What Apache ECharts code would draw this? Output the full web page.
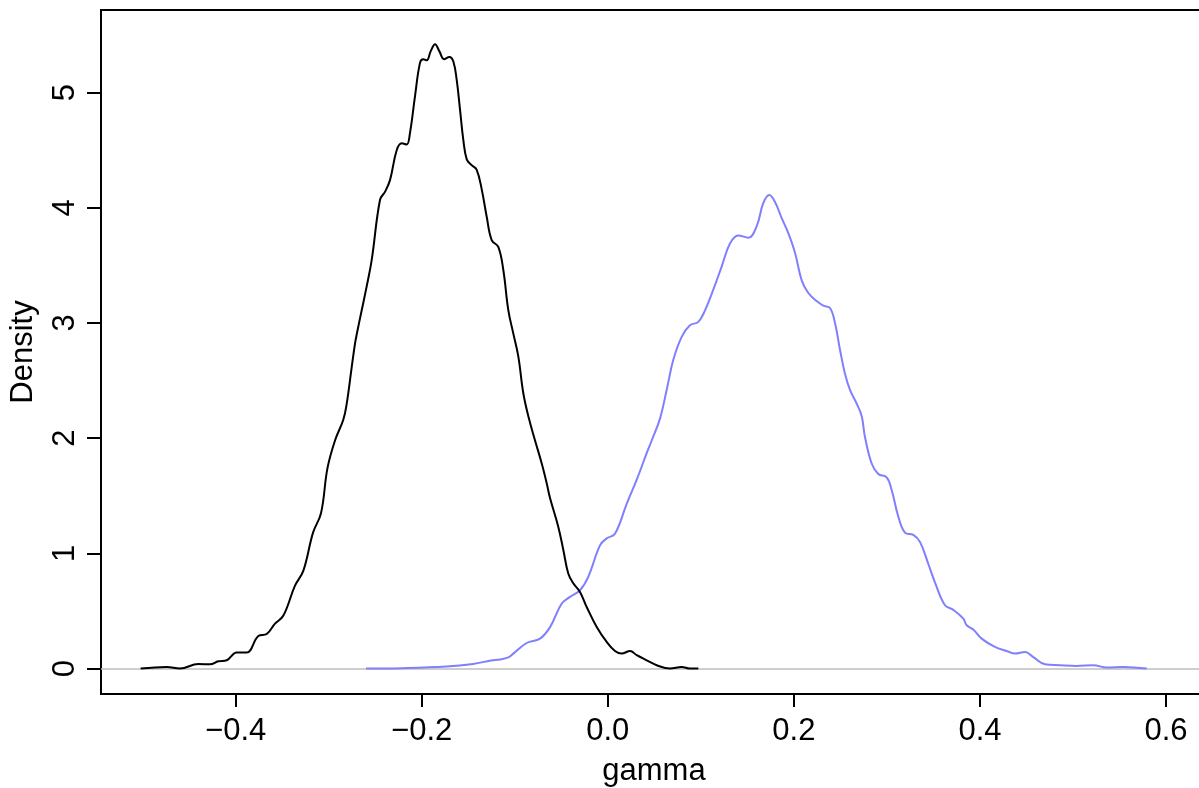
<!DOCTYPE html>
<html>
<head>
<meta charset="utf-8">
<script src="https://cdn.jsdelivr.net/npm/echarts@6/dist/echarts.min.js"></script>
<style>
html,body{margin:0;padding:0;background:#fff;}
#chart{width:1199px;height:788px;}
</style>
</head>
<body>
<div id="chart"></div>
<script>
// Tick labels
const xTicks = [-0.4, -0.2, 0.0, 0.2, 0.4, 0.6];
const yTicks = [0, 1, 2, 3, 4, 5];
const xLabel = 'gamma';
const yLabel = 'Density';

// Black density curve
const blackX = [-0.5021,-0.4740,-0.4598,-0.4401,-0.4275,-0.4186,-0.4096,-0.3988,-0.3881,-0.3756,-0.3666,-0.3577,-0.3487,-0.3362,-0.3272,-0.3168,-0.3082,-0.3013,-0.2932,-0.2843,-0.2806,-0.2752,-0.2717,-0.2699,-0.2645,-0.2591,-0.2537,-0.2448,-0.2394,-0.2341,-0.2269,-0.2215,-0.2161,-0.2126,-0.2072,-0.2018,-0.1983,-0.1946,-0.1903,-0.1857,-0.1811,-0.1760,-0.1703,-0.1660,-0.1624,-0.1588,-0.1553,-0.1516,-0.1463,-0.1409,-0.1355,-0.1301,-0.1248,-0.1177,-0.1123,-0.1069,-0.1016,-0.0962,-0.0908,-0.0854,-0.0782,-0.0710,-0.0657,-0.0621,-0.0532,-0.0478,-0.0425,-0.0371,-0.0299,-0.0227,-0.0119,-0.0012,0.0077,0.0149,0.0239,0.0311,0.0418,0.0526,0.0668,0.0794,0.0883,0.0973];
const blackDensity = [0.00,0.014,0.00,0.040,0.037,0.063,0.072,0.140,0.139,0.283,0.300,0.390,0.460,0.720,0.850,1.180,1.350,1.740,1.980,2.160,2.300,2.620,2.820,2.900,3.110,3.320,3.550,4.070,4.140,4.240,4.500,4.560,4.550,4.650,4.970,5.260,5.290,5.280,5.360,5.420,5.360,5.290,5.310,5.270,5.110,4.850,4.590,4.420,4.370,4.330,4.160,3.920,3.720,3.660,3.460,3.110,2.910,2.710,2.390,2.190,1.980,1.780,1.610,1.480,1.230,1.030,0.825,0.740,0.665,0.535,0.361,0.231,0.153,0.130,0.153,0.116,0.072,0.029,0.000,0.014,0.000,0.000];

// Blue density curve
const blueX = [-0.2599,-0.2214,-0.1735,-0.1447,-0.1255,-0.1159,-0.1063,-0.1016,-0.0872,-0.0729,-0.0621,-0.0495,-0.0406,-0.0299,-0.0210,-0.0084,-0.0012,0.0077,0.0203,0.0311,0.0418,0.0472,0.0561,0.0633,0.0704,0.0794,0.0883,0.0973,0.1045,0.1134,0.1224,0.1313,0.1402,0.1510,0.1600,0.1671,0.1736,0.1797,0.1869,0.1940,0.2012,0.2084,0.2155,0.2245,0.2316,0.2388,0.2442,0.2495,0.2549,0.2603,0.2675,0.2729,0.2764,0.2836,0.2907,0.2997,0.3051,0.3122,0.3194,0.3283,0.3355,0.3444,0.3520,0.3624,0.3713,0.3821,0.3857,0.3928,0.4018,0.4161,0.4287,0.4376,0.4484,0.4573,0.4699,0.4860,0.5039,0.5218,0.5362,0.5540,0.5792];
const blueDensity = [0.000,0.003,0.017,0.040,0.070,0.078,0.100,0.130,0.222,0.260,0.360,0.565,0.622,0.680,0.796,1.070,1.130,1.170,1.430,1.640,1.870,1.980,2.170,2.420,2.680,2.880,2.980,3.010,3.110,3.290,3.490,3.690,3.760,3.740,3.840,4.040,4.110,4.050,3.910,3.780,3.610,3.370,3.260,3.190,3.150,3.130,3.000,2.770,2.560,2.420,2.300,2.190,2.010,1.780,1.690,1.660,1.550,1.320,1.180,1.160,1.100,0.910,0.740,0.550,0.510,0.434,0.376,0.339,0.260,0.188,0.153,0.130,0.144,0.100,0.037,0.029,0.023,0.029,0.009,0.014,0.000];

const zip = (xs, ys) => xs.map((x, i) => [x, ys[i]]);
const font = '"Liberation Sans", Arial, Helvetica, sans-serif';
const fmtX = v => {
  const a = Math.abs(v) < 1e-9 ? 0 : v;
  return (a < 0 ? '\u2212' : '') + Math.abs(a).toFixed(1);
};

const chart = echarts.init(document.getElementById('chart'), null, {renderer: 'canvas'});
chart.setOption({
  animation: false,
  backgroundColor: '#ffffff',
  grid: {
    left: 101, top: 10, width: 1106, height: 684,
    containLabel: false, outerBoundsMode: 'none',
    show: true, borderColor: '#000', borderWidth: 2, backgroundColor: 'transparent'
  },
  xAxis: {
    type: 'value', min: -0.5447, max: 0.644,
    name: xLabel, nameLocation: 'middle', nameGap: 62,
    nameTextStyle: {fontFamily: font, fontSize: 31, color: '#000'},
    axisLine: {show: true, onZero: false, lineStyle: {color: '#000', width: 2}},
    axisTick: {show: true, length: 13, inside: false, customValues: xTicks, lineStyle: {color: '#000', width: 2}},
    axisLabel: {show: true, customValues: xTicks, margin: 22, formatter: fmtX,
      fontFamily: font, fontSize: 31, color: '#000'},
    splitLine: {show: false}
  },
  yAxis: {
    type: 'value', min: -0.2207, max: 5.717,
    name: yLabel, nameLocation: 'middle', nameGap: 62,
    nameTextStyle: {fontFamily: font, fontSize: 31, color: '#000'},
    axisLine: {show: true, onZero: false, lineStyle: {color: '#000', width: 2}},
    axisTick: {show: true, length: 14, inside: false, customValues: yTicks, lineStyle: {color: '#000', width: 2}},
    axisLabel: {show: true, customValues: yTicks, rotate: 90, margin: 20,
      formatter: v => String(Math.round(v)),
      fontFamily: font, fontSize: 31, color: '#000'},
    splitLine: {show: false}
  },
  series: [
    {
      type: 'line', data: zip(blackX, blackDensity), showSymbol: false, smooth: 0.4,
      lineStyle: {color: '#000', width: 2}, z: 3, clip: true,
      markLine: {
        silent: true, symbol: 'none', label: {show: false},
        lineStyle: {color: '#bebebe', width: 1.5, type: 'solid'},
        data: [{yAxis: 0}], z: 1
      }
    },
    {
      type: 'line', data: zip(blueX, blueDensity), showSymbol: false, smooth: 0.4,
      lineStyle: {color: '#7f7fff', width: 2}, z: 2, clip: true
    }
  ]
});
</script>
</body>
</html>
